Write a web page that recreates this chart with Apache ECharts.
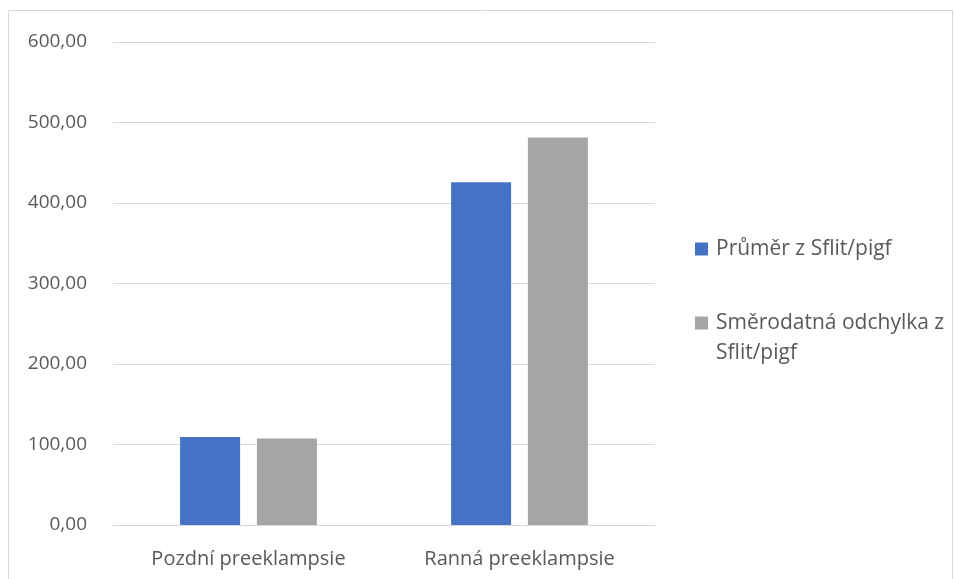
<!DOCTYPE html>
<html><head><meta charset="utf-8">
<script src="https://cdn.jsdelivr.net/npm/echarts@6/dist/echarts.min.js"></script>
<style>html,body{margin:0;padding:0;background:#fff}#c{width:955px;height:579px}</style>
</head><body><div id="c"></div>
<script>
const categories = ['Pozdní preeklampsie', 'Ranná preeklampsie'];
const seriesNames = ['Průměr z Sflit/pigf', 'Směrodatná odchylka z Sflit/pigf'];
const meanValues = [109.2, 425.9];
const sdValues = [107.4, 481.4];
const yTicks = [0, 100, 200, 300, 400, 500, 600];

const FONT = 'Open Sans';
const TXT = '#595959';
const chart = echarts.init(document.getElementById('c'));
chart.setOption({
  animation: false,
  textStyle: { fontFamily: FONT },
  graphic: [{
    type: 'rect', shape: { x: 8.5, y: 10.5, width: 944, height: 620 },
    style: { fill: 'none', stroke: '#D9D9D9', lineWidth: 1 }, z: -1
  }],
  grid: { left: 113, right: 300, top: 42, bottom: 54 },
  legend: {
    orient: 'vertical', left: 695, top: 234, padding: 0,
    itemWidth: 13, itemHeight: 13, itemGap: 14,
    icon: 'rect',
    data: seriesNames,
    formatter: n => n === seriesNames[1] ? '\nSměrodatná odchylka z\nSflit/pigf' : n,
    textStyle: { fontFamily: FONT, fontSize: 21, color: TXT, lineHeight: 30, padding: [0, 0, 0, 3] }
  },
  xAxis: {
    type: 'category', data: categories,
    axisLine: { lineStyle: { color: '#D9D9D9', width: 1 } },
    axisTick: { show: false },
    axisLabel: { color: TXT, fontSize: 20, margin: 24, fontFamily: FONT }
  },
  yAxis: {
    type: 'value', min: yTicks[0], max: yTicks[yTicks.length - 1], interval: 100,
    axisLine: { show: false }, axisTick: { show: false },
    splitLine: { lineStyle: { color: '#D9D9D9', width: 1 } },
    axisLabel: { color: TXT, fontSize: 19, margin: 26, fontFamily: FONT,
      formatter: v => v.toFixed(2).replace('.', ',') }
  },
  series: [
    { name: seriesNames[0], type: 'bar', data: meanValues, barWidth: 60, barGap: '28%',
      itemStyle: { color: '#4472C4' } },
    { name: seriesNames[1], type: 'bar', data: sdValues, barWidth: 60,
      itemStyle: { color: '#A5A5A5' } }
  ]
});
</script></body></html>
